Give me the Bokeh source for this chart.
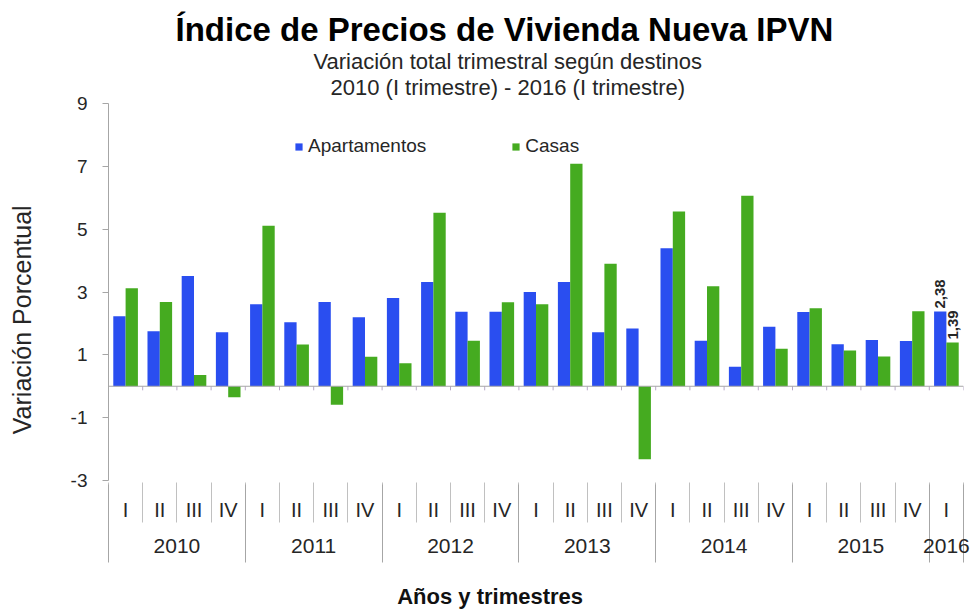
from math import pi

from bokeh.plotting import figure
from bokeh.models import (FactorRange, Range1d, LinearAxis, FixedTicker, Span,
                          Legend, LegendItem, Title, ColumnDataSource)
from bokeh.transform import dodge
from bokeh.core.properties import value
from bokeh.embed import file_html
from bokeh.resources import INLINE

# ---------------- data ----------------
anios = ["2010", "2011", "2012", "2013", "2014", "2015", "2016"]
trimestres_por_anio = [4, 4, 4, 4, 4, 4, 1]
trimestres = ["I", "II", "III", "IV"]

apartamentos = [2.23, 1.75, 3.51, 1.72,
                2.61, 2.04, 2.68, 2.20,
                2.81, 3.32, 2.37, 2.37,
                3.00, 3.32, 1.72, 1.84,
                4.39, 1.45, 0.62, 1.89,
                2.36, 1.34, 1.47, 1.44,
                2.38]
casas = [3.12, 2.68, 0.36, -0.35,
         5.11, 1.33, -0.59, 0.94,
         0.73, 5.52, 1.45, 2.67,
         2.61, 7.08, 3.90, -2.32,
         5.56, 3.18, 6.06, 1.19,
         2.48, 1.14, 0.95, 2.39,
         1.39]
y_ticks = [-3, -1, 1, 3, 5, 7, 9]

# ---------------- derived ----------------
periodos = [f"{a} {t}" for a, n in zip(anios, trimestres_por_anio) for t in trimestres[:n]]
etiq_trim = [t for a, n in zip(anios, trimestres_por_anio) for t in trimestres[:n]]
n_per = len(periodos)
centros_trim = [i + 0.5 for i in range(n_per)]
limites_trim = list(range(n_per + 1))
inicios = []
acc = 0
for n in trimestres_por_anio:
    inicios.append(acc)
    acc += n
centros_anio = [s + n / 2 for s, n in zip(inicios, trimestres_por_anio)]
limites_anio = inicios + [acc]

FONT = "Liberation Sans"
BLUE = "#2a4ef0"
GREEN = "#45ab20"
TXT = "#262626"
AXC = "#a6a6a6"
NBSP = "\u00a0"

p = figure(width=971, height=613,
           x_range=FactorRange(factors=periodos, range_padding=0, factor_padding=0),
           y_range=Range1d(-3, 9),
           output_backend="svg", toolbar_location=None,
           x_axis_location=None, title=None,
           min_border_left=108, min_border_right=8,
           min_border_top=103, min_border_bottom=133,
           outline_line_color=None)
p.grid.visible = False

src = ColumnDataSource(dict(periodo=periodos, apartamentos=apartamentos, casas=casas))
r1 = p.vbar(x=dodge("periodo", -0.18, range=p.x_range), top="apartamentos", width=0.36,
            source=src, fill_color=BLUE, line_color=None)
r2 = p.vbar(x=dodge("periodo", 0.18, range=p.x_range), top="casas", width=0.36,
            source=src, fill_color=GREEN, line_color=None)

# category axis line crossing at zero, with its small boundary ticks
p.add_layout(Span(location=0, dimension="width", line_color=AXC, line_width=1))
p.segment(x0=limites_trim, x1=limites_trim, y0=[0] * len(limites_trim),
          y1=[-0.13] * len(limites_trim), line_color="#b8a8c8", line_width=1)

# y axis
ya = p.yaxis[0]
ya.ticker = FixedTicker(ticks=y_ticks)
ya.major_label_overrides = {t: str(t) for t in y_ticks}
ya.axis_line_color = AXC
ya.major_tick_line_color = AXC
ya.major_tick_in = 0
ya.major_tick_out = 6
ya.minor_tick_line_color = None
ya.major_label_standoff = 15
ya.major_label_text_font = FONT
ya.major_label_text_font_size = "19px"
ya.major_label_text_color = TXT
# trailing no-break spaces shift the centred title toward the bottom, as in the reference
ya.axis_label = "Variación Porcentual" + NBSP * 8
ya.axis_label_standoff = 32
ya.axis_label_text_font = FONT
ya.axis_label_text_font_size = "25px"
ya.axis_label_text_font_style = "normal"
ya.axis_label_text_color = TXT

# quarter axis
ax_q = LinearAxis(ticker=FixedTicker(ticks=centros_trim, minor_ticks=limites_trim),
                  major_label_overrides={c: t for c, t in zip(centros_trim, etiq_trim)},
                  axis_line_color=None, major_tick_in=0, major_tick_out=0,
                  minor_tick_in=-2, minor_tick_out=42,
                  minor_tick_line_color="#c0c0c0",
                  major_label_standoff=-24,
                  major_label_text_font=FONT, major_label_text_font_size="20px",
                  major_label_text_color=TXT)
p.add_layout(ax_q, "below")

# year axis
ax_a = LinearAxis(ticker=FixedTicker(ticks=centros_anio, minor_ticks=limites_anio),
                  major_label_overrides={c: a for c, a in zip(centros_anio, anios)},
                  axis_line_color=None, major_tick_in=0, major_tick_out=0,
                  minor_tick_in=39, minor_tick_out=39,
                  minor_tick_line_color=AXC,
                  major_label_standoff=-24,
                  major_label_text_font=FONT, major_label_text_font_size="21px",
                  major_label_text_color=TXT,
                  axis_label="Años y trimestres" + NBSP * 15, axis_label_standoff=28,
                  axis_label_text_font=FONT, axis_label_text_font_size="22px",
                  axis_label_text_font_style="bold", axis_label_text_color="#111111")
p.add_layout(ax_a, "below")

# legend
legend = Legend(items=[LegendItem(label="Apartamentos", renderers=[r1]),
                       LegendItem(label="Casas", renderers=[r2])],
                location=(186, 323), orientation="horizontal",
                glyph_width=9, glyph_height=9, label_standoff=5, spacing=85,
                padding=0, margin=0, border_line_color=None, background_fill_alpha=0,
                label_text_font=FONT, label_text_font_size="19px", label_text_color=TXT)
p.add_layout(legend)

# data labels for last quarter
def fmt(v):
    return f"{v:.2f}".replace(".", ",")

for serie, off in ((apartamentos, -0.18), (casas, 0.18)):
    lsrc = ColumnDataSource(dict(periodo=[periodos[-1]], valor=[serie[-1]], texto=[fmt(serie[-1])]))
    p.text(x=dodge("periodo", off, range=p.x_range), y="valor", text="texto", source=lsrc,
           angle=pi / 2, text_align="left", text_baseline="middle", y_offset=-3,
           text_font=value(FONT), text_font_style="bold", text_font_size="15px",
           text_color=TXT)

# titles
t3 = Title(text="2010 (I trimestre) - 2016 (I trimestre)", align="left", offset=222,
           text_font=FONT, text_font_size="22px", text_font_style="normal",
           text_color=TXT, standoff=7)
t2 = Title(text="Variación total trimestral según destinos", align="left", offset=205,
           text_font=FONT, text_font_size="22px", text_font_style="normal",
           text_color=TXT, standoff=-8)
t1 = Title(text="Índice de Precios de Vivienda Nueva IPVN", align="left", offset=67,
           text_font=FONT, text_font_size="33px", text_font_style="bold",
           text_color="#000000", standoff=6)
p.add_layout(t3, "above")
p.add_layout(t2, "above")
p.add_layout(t1, "above")

open("out.html", "w").write(file_html(p, INLINE))
